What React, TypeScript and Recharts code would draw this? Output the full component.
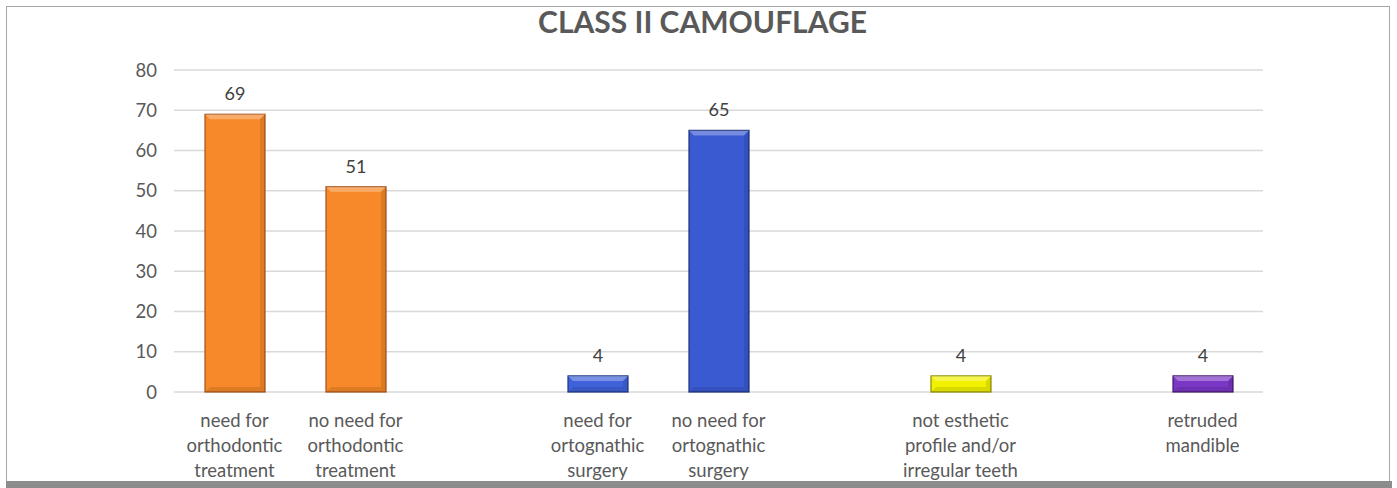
import { Bar, BarChart, CartesianGrid, Cell, LabelList, XAxis, YAxis } from 'recharts';

const categories = [
  'need for\northodontic\ntreatment',
  'no need for\northodontic\ntreatment',
  '',
  'need for\nortognathic\nsurgery',
  'no need for\nortognathic\nsurgery',
  '',
  'not esthetic\nprofile and/or\nirregular teeth',
  '',
  'retruded\nmandible',
];
const counts: (number | null)[] = [69, 51, null, 4, 65, null, 4, null, 4];
const yTicks = [0, 10, 20, 30, 40, 50, 60, 70, 80];

const barColors = ['#f7892a', '#f7892a', '#ffffff', '#3f62da', '#3a5ad2', '#ffffff', '#f2f200', '#ffffff', '#7a36c4'];
const edgeColors = ['#a4521a', '#a4521a', '#ffffff', '#1f3480', '#1c2f78', '#ffffff', '#8d8d00', '#ffffff', '#42166f'];

const data = categories.map((name, i) => ({ name, value: counts[i], idx: i }));

const FONT = 'Lato, "Open Sans", sans-serif';
const TEXT = '#595959';

const BevelBar = (props: any) => {
  const { x, y, width, height, payload } = props;
  if (!height || height <= 0) return null;
  const i = payload.idx;
  const fill = barColors[i];
  const edge = edgeColors[i];
  const b = Math.min(5, height / 2);
  return (
    <g>
      <rect x={x} y={y} width={width} height={height} fill={fill} stroke={edge} strokeWidth={1.2} />
      <polygon
        points={`${x},${y} ${x + width},${y} ${x + width - b},${y + b} ${x + b},${y + b}`}
        fill="#ffffff"
        fillOpacity={0.3}
      />
      <polygon
        points={`${x + width},${y} ${x + width},${y + height} ${x + width - b},${y + height - b} ${x + width - b},${y + b}`}
        fill="#000000"
        fillOpacity={0.1}
      />
      <polygon
        points={`${x},${y + height} ${x + width},${y + height} ${x + width - b},${y + height - b} ${x + b},${y + height - b}`}
        fill="#000000"
        fillOpacity={0.1}
      />
    </g>
  );
};

const CategoryTick = (props: any) => {
  const { x, y, payload } = props;
  const lines = String(payload.value || '').split('\n');
  return (
    <text x={x} y={y} textAnchor="middle" fill={TEXT} fontSize={18.5} fontFamily={FONT}>
      {lines.map((line, k) => (
        <tspan key={k} x={x} dy={k === 0 ? 27 : 25}>
          {line}
        </tspan>
      ))}
    </text>
  );
};

const ValueLabel = (props: any) => {
  const { x, y, width, value } = props;
  if (value == null) return null;
  return (
    <text x={x + width / 2} y={y - 14} textAnchor="middle" fill="#404040" fontSize={18} fontFamily={FONT}>
      {value}
    </text>
  );
};

export default function App() {
  return (
    <div style={{ position: 'absolute', left: 0, top: 0, width: 1397, height: 488, background: '#ffffff', overflow: 'hidden' }}>
      <div
        style={{
          position: 'absolute',
          left: 6,
          top: 6,
          width: 1384,
          height: 476,
          border: '1.5px solid #a6a6a6',
          borderBottom: 'none',
          boxSizing: 'border-box',
        }}
      />
      <div style={{ position: 'absolute', left: 6, top: 481, width: 1386, height: 7, background: '#8c8c8c' }} />
      <div
        style={{
          position: 'absolute',
          left: 0,
          width: 1397,
          top: 3,
          textAlign: 'center',
          fontFamily: FONT,
          fontWeight: 700,
          fontSize: 30,
          color: TEXT,
          paddingLeft: 8,
          boxSizing: 'border-box',
        }}
      >
        CLASS II CAMOUFLAGE
      </div>
      <div style={{ position: 'absolute', left: 0, top: 0 }}>
        <BarChart width={1397} height={488} data={data} margin={{ top: 70, right: 134, bottom: 0, left: 114 }}>
          <CartesianGrid vertical={false} stroke="#d9d9d9" strokeWidth={1.5} />
          <XAxis
            dataKey="name"
            axisLine={false}
            tickLine={false}
            interval={0}
            tick={<CategoryTick />}
            height={96}
          />
          <YAxis
            domain={[0, 80]}
            ticks={yTicks}
            width={60}
            axisLine={false}
            tickLine={false}
            tickSize={0}
            tickMargin={17}
            tick={{ fill: TEXT, fontSize: 18.5, fontFamily: FONT }}
          />
          <Bar dataKey="value" barSize={60} isAnimationActive={false} shape={<BevelBar />}>
            {data.map((d) => (
              <Cell key={d.idx} fill={barColors[d.idx]} />
            ))}
            <LabelList dataKey="value" content={<ValueLabel />} />
          </Bar>
        </BarChart>
      </div>
    </div>
  );
}
